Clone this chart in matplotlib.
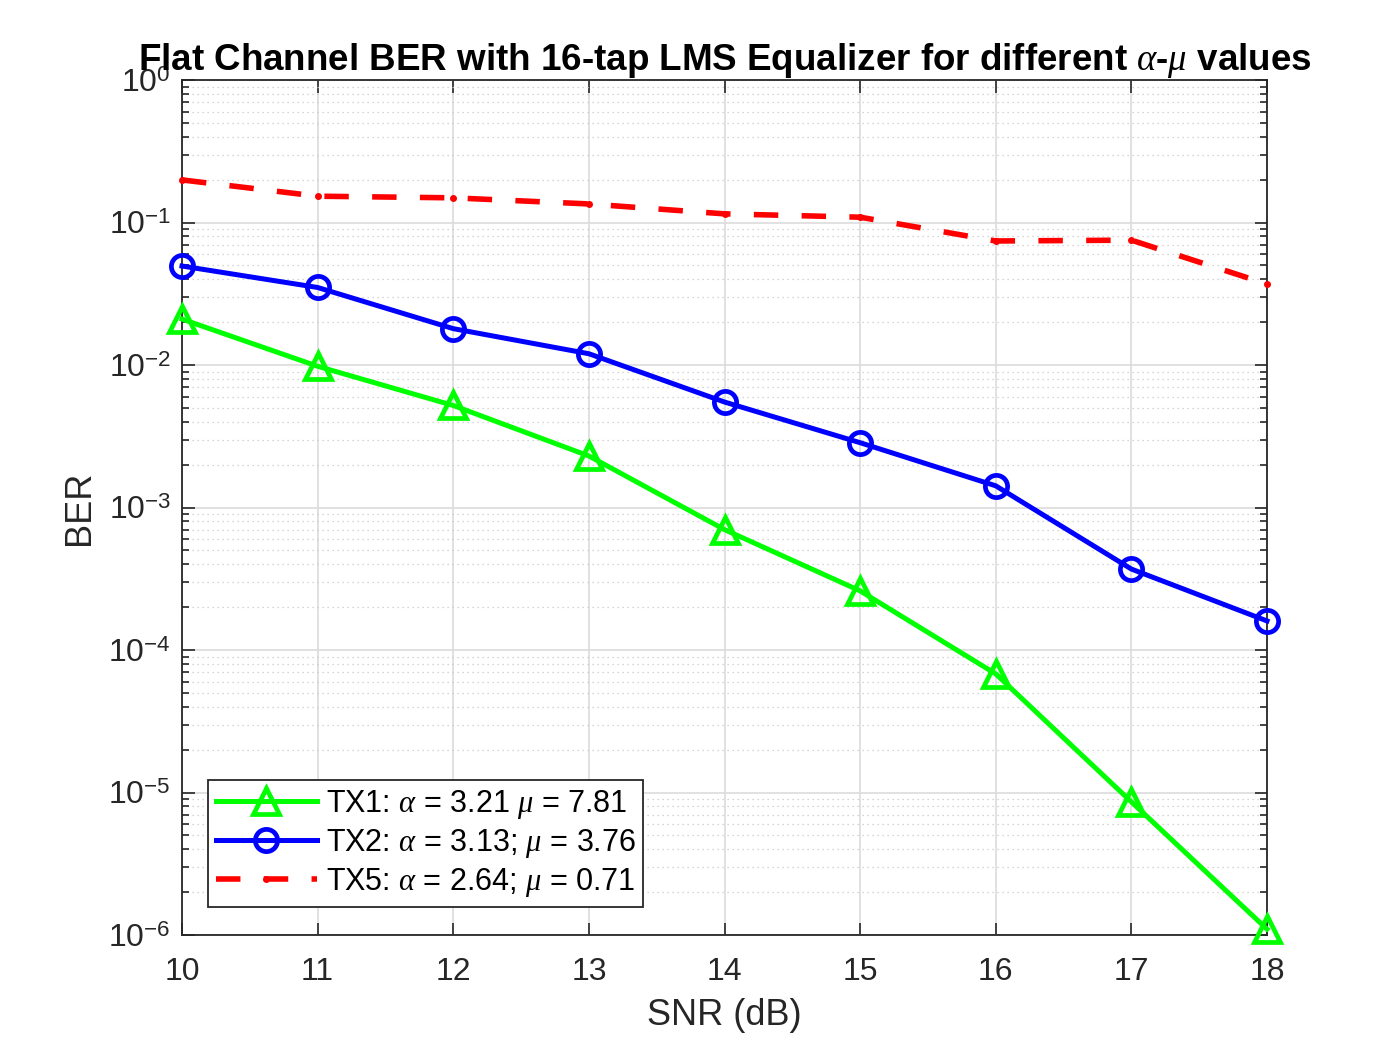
import numpy as np
import matplotlib
matplotlib.use("Agg")
import matplotlib.pyplot as plt
from matplotlib.ticker import FixedLocator, NullFormatter

plt.rcParams['font.family'] = ['Liberation Sans', 'DejaVu Sans']
plt.rcParams['mathtext.fontset'] = 'custom'
plt.rcParams['mathtext.rm'] = 'Liberation Sans'
plt.rcParams['mathtext.it'] = 'Liberation Serif:italic'
plt.rcParams['mathtext.bf'] = 'Liberation Sans:bold'
plt.rcParams['axes.unicode_minus'] = False

# SNR (dB)
snr = [10, 11, 12, 13, 14, 15, 16, 17, 18]

# BER curves
ber_tx1 = [2.1e-2, 9.8e-3, 5.2e-3, 2.3e-3, 7.0e-4, 2.6e-4, 6.8e-5, 8.6e-6, 1.1e-6]
ber_tx2 = [4.95e-2, 3.5e-2, 1.8e-2, 1.2e-2, 5.5e-3, 2.85e-3, 1.42e-3, 3.7e-4, 1.6e-4]
ber_tx5 = [0.199, 0.153, 0.149, 0.135, 0.115, 0.109, 0.0742, 0.0752, 0.037]

labels = [r"TX1: $\alpha$ = 3.21 $\mu$ = 7.81",
          r"TX2: $\alpha$ = 3.13; $\mu$ = 3.76",
          r"TX5: $\alpha$ = 2.64; $\mu$ = 0.71"]

decades = [-6, -5, -4, -3, -2, -1, 0]

txt = '#262626'

fig = plt.figure(figsize=(14, 10.5), dpi=100)
ax = fig.add_axes([0.13, 0.1095, 0.775, 0.8143])

ax.semilogy(snr, ber_tx1, '-^', color='#00ff00', lw=3.6, ms=19, mew=3.4,
            mfc='none', label=labels[0], clip_on=False, zorder=4)
ax.semilogy(snr, ber_tx2, '-o', color='#0000ff', lw=3.6, ms=16, mew=3.4,
            mfc='none', label=labels[1], clip_on=False, zorder=4)
ax.semilogy(snr, ber_tx5, '--.', color='#ff0000', lw=4, ms=8,
            dashes=(4.4, 4.2), label=labels[2], clip_on=False, zorder=3)

ax.set_xlim(10, 18)
ax.set_ylim(1e-6, 1)
ax.set_xticks(snr)
ax.set_yticks([10.0 ** d for d in decades])
ax.set_yticklabels([r"$10^{%d}$" % d for d in decades])
minors = [m * 10.0 ** d for d in decades[:-1] for m in range(2, 10)]
ax.yaxis.set_minor_locator(FixedLocator(minors))
ax.yaxis.set_minor_formatter(NullFormatter())

ax.grid(True, which='major', color='#dcdcdc', lw=1.2, ls='-')
ax.grid(True, which='minor', axis='y', color='#c8c8c8', lw=0.9, ls=(0, (1, 3)))
ax.set_axisbelow(True)

ax.tick_params(which='both', direction='in', top=True, right=True,
               labelsize=23, colors=txt, length=9, width=1.2)
ax.tick_params(axis='x', pad=16)
ax.tick_params(axis='y', pad=8)
ax.tick_params(which='minor', length=5)
for s in ax.spines.values():
    s.set_color(txt)
    s.set_linewidth(1.3)

ax.set_xlabel('SNR (dB)', fontsize=26, color=txt, labelpad=8)
ax.set_ylabel('BER', fontsize=26, color=txt, labelpad=8)
ax.set_title(r"Flat Channel BER with 16-tap LMS Equalizer for different $\alpha$-$\mu$ values",
             fontsize=26.5, fontweight='bold', pad=6)

leg = ax.legend(loc='lower left', bbox_to_anchor=(0.024, 0.033), fontsize=22,
                fancybox=False, framealpha=1, edgecolor='#262626',
                handlelength=3.3, borderpad=0.25, labelspacing=0.2,
                handletextpad=0.3, borderaxespad=0)
leg.get_frame().set_linewidth(1.3)

fig.savefig('out.png', dpi=100)
